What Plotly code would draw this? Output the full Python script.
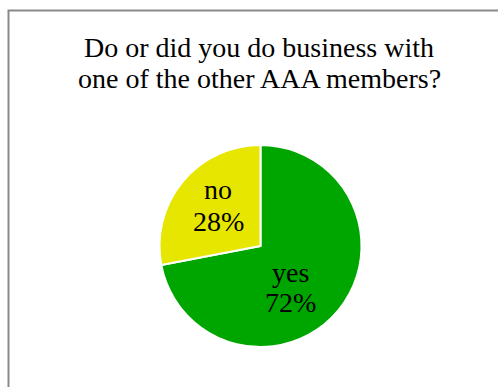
import plotly.graph_objects as go

# Survey answers
answers = ["yes", "no"]
shares = [72, 28]
slice_colors = ["#00A600", "#E6E600"]

title_lines = ["Do or did you do business with", "one of the other AAA members?"]

W, H = 498, 387
font_family = "Liberation Serif"


def px(x, y):
    """Pixel position (from top-left) to paper coordinates."""
    return x / W, 1 - y / H


fig = go.Figure(
    go.Pie(
        labels=answers,
        values=shares,
        sort=False,
        direction="clockwise",
        rotation=0,
        marker=dict(colors=slice_colors, line=dict(color="white", width=2)),
        textinfo="none",
        hoverinfo="label+percent",
        showlegend=False,
        domain=dict(x=[159.5 / W, 361.5 / W], y=[40 / H, 242 / H]),
    )
)

annotations = []

# Two-line title
for line, cy in zip(title_lines, [47.3, 78.3]):
    x, y = px(259, cy)
    annotations.append(dict(
        text=line, x=x, y=y, xref="paper", yref="paper",
        xanchor="center", yanchor="middle", showarrow=False,
        font=dict(family=font_family, size=28, color="black"),
    ))

# Slice labels: name on one line, share on the next
label_spots = {"yes": (290, 272.6, 302.6), "no": (218, 189.3, 221.6)}
total = sum(shares)
for name, val in zip(answers, shares):
    cx, y1, y2 = label_spots[name]
    pct = f"{round(100 * val / total)}%"
    for txt, cy in ((name, y1), (pct, y2)):
        x, y = px(cx, cy)
        annotations.append(dict(
            text=txt, x=x, y=y, xref="paper", yref="paper",
            xanchor="center", yanchor="middle", showarrow=False,
            font=dict(family=font_family, size=28, color="black"),
        ))

fig.update_layout(
    width=W,
    height=H,
    margin=dict(l=0, r=0, t=0, b=0),
    paper_bgcolor="white",
    plot_bgcolor="white",
    annotations=annotations,
    shapes=[
        dict(
            type="rect",
            xref="paper",
            yref="paper",
            x0=8.5 / W,
            x1=1.2,
            y0=-0.2,
            y1=1 - 10.5 / H,
            line=dict(color="#898989", width=2),
            fillcolor="rgba(0,0,0,0)",
            layer="above",
        )
    ],
)

fig.write_html("out.html")
